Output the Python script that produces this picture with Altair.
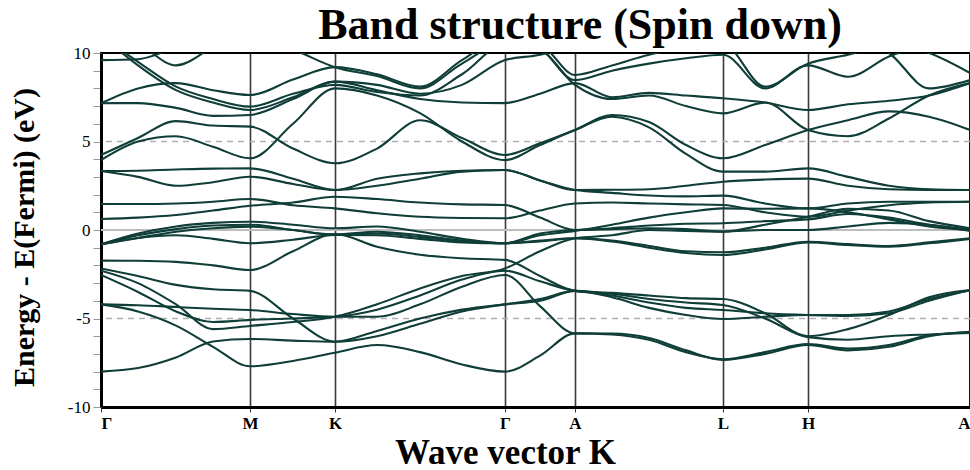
import altair as alt
import pandas as pd

# k-path sample positions (path-length units) and high-symmetry points
k_grid = [0, 37, 75, 112, 149, 192, 234, 276, 319, 361, 404, 439, 474,
          511, 548, 585, 622, 664, 707, 747, 788, 828, 869]
sym_pos = [0, 149, 234, 404, 474, 622, 707, 869]
sym_labels = ["Γ", "M", "K", "Γ", "A", "L", "H", "A"]
y_tick_values = list(range(-10, 11))
title_text = ["Band structure (Spin down)"]

# band energies (eV, relative to Fermi level) at each k_grid point
band_a = [-1.73, -1.74, -1.8, -2.0, -2.26, -1.2, -0.23, -0.95, -1.4, -1.6, -1.69, -2.6, -3.44,
          -3.55, -3.7, -3.85, -3.9, -4.7, -6.0, -5.6, -4.8, -3.8, -3.39]
band_b = [-2.17, -2.6, -3.1, -3.35, -3.44, -5.0, -6.31, -5.7, -5.0, -4.5, -4.2, -4.0, -3.44,
          -3.7, -4.1, -4.4, -4.52, -4.7, -4.8, -4.85, -4.7, -4.0, -3.39]
band_c = [-2.3, -3.0, -4.2, -5.6, -5.42, -5.2, -4.9, -4.2, -3.3, -2.6, -2.17, -1.2, -0.47,
          -0.3, 0.0, -0.05, -0.09, 0.3, 0.75, 1.2, 1.1, 0.5, 0.1]
band_d = [-2.54, -3.5, -4.6, -5.2, -5.08, -5.0, -4.9, -4.5, -3.7, -2.8, -2.3, -2.9, -3.44,
          -3.6, -3.9, -4.1, -4.24, -5.0, -6.05, -6.2, -6.0, -5.9, -5.82]
band_e = [-4.2, -4.25, -4.35, -4.45, -4.52, -4.75, -4.9, -4.9, -4.2, -3.2, -2.54, -4.3, -5.84,
          -5.85, -6.1, -6.8, -7.34, -7.0, -6.5, -6.8, -6.6, -6.0, -5.75]
band_f = [-4.2, -4.6, -5.4, -6.6, -7.7, -7.4, -6.93, -6.5, -6.9, -7.6, -8.0, -7.1, -5.84,
          -5.9, -6.2, -6.9, -7.3, -6.9, -6.45, -6.7, -6.5, -5.95, -5.78]
band_g = [-8.0, -7.8, -7.2, -6.3, -6.16, -6.25, -6.31, -6.0, -5.3, -4.6, -4.2, -3.9, -3.44,
          -3.8, -4.4, -4.8, -5.03, -4.9, -4.8, -4.8, -4.6, -3.9, -3.42]
band_z1 = [-0.81, -0.2, 0.2, 0.4, 0.47, 0.3, 0.1, 0.2, -0.1, -0.5, -0.75, -0.2, 0.0,
           0.05, 0.1, 0.05, -0.09, 0.0, 0.0, 0.2, 0.4, 0.3, -0.05]
band_z2 = [-0.81, -0.3, 0.05, 0.25, 0.3, 0.0, -0.25, -0.1, -0.3, -0.6, -0.75, -0.3, -0.05,
           0.3, 0.7, 1.0, 1.22, 1.2, 1.22, 1.0, 0.6, 0.2, 0.0]
band_z3 = [-0.81, -0.45, -0.1, 0.1, 0.19, 0.0, -0.28, -0.2, -0.4, -0.65, -0.75, -0.6, -0.47,
           -0.6, -0.9, -1.2, -1.26, -1.0, -0.66, -0.8, -0.9, -0.7, -0.47]
band_z4 = [-0.81, -0.45, -0.3, -0.5, -0.75, -0.55, -0.28, -0.3, -0.5, -0.7, -0.75, -0.65, -0.47,
           -0.65, -1.0, -1.3, -1.41, -1.1, -0.7, -0.85, -0.95, -0.75, -0.5]
band_z5 = [0.62, 0.7, 0.85, 1.1, 1.37, 1.55, 1.88, 1.75, 1.55, 1.45, 1.41, 0.7, 0.0,
           0.1, 0.25, 0.35, 0.38, 0.5, 0.6, 0.9, 0.7, 0.3, 0.05]
band_z6 = [1.47, 1.47, 1.5, 1.6, 1.75, 1.4, 1.22, 0.95, 0.75, 0.68, 0.66, 1.1, 1.5,
           1.55, 1.5, 1.45, 1.41, 1.0, 0.75, 1.1, 1.4, 1.55, 1.6]
band_u1 = [3.33, 3.0, 2.5, 2.7, 3.01, 2.6, 2.26, 2.9, 3.2, 3.35, 3.39, 2.8, 2.26,
           2.27, 2.3, 2.5, 2.73, 2.85, 2.9, 2.5, 2.3, 2.26, 2.26]
band_u2 = [3.33, 3.35, 3.42, 3.47, 3.48, 2.9, 2.26, 2.5, 2.9, 3.3, 3.39, 2.8, 2.26,
           2.1, 1.95, 1.9, 1.94, 1.5, 1.22, 1.5, 1.6, 1.6, 1.6]
band_u3 = [4.24, 5.2, 6.15, 5.9, 5.84, 4.6, 3.77, 4.6, 6.2, 5.2, 4.24, 4.9, 5.65,
           6.5, 6.1, 4.8, 4.05, 4.8, 5.65, 6.2, 6.7, 6.4, 5.65]
band_u4 = [3.95, 5.0, 5.3, 4.7, 4.05, 6.0, 8.0, 7.6, 6.6, 5.0, 3.95, 4.8, 5.65,
           6.4, 5.8, 4.3, 3.3, 3.3, 3.48, 3.0, 2.5, 2.3, 2.26]
band_u5 = [7.16, 7.17, 6.9, 6.45, 6.5, 7.4, 8.38, 7.9, 7.4, 7.2, 7.17, 7.7, 8.3,
           7.5, 7.75, 7.6, 7.44, 7.2, 6.78, 7.1, 7.3, 7.6, 8.3]
band_u6 = [11.0, 9.5, 8.1, 7.4, 6.97, 7.7, 8.2, 7.8, 7.6, 8.8, 10.5, 10.4, 8.76,
           9.3, 9.9, 10.3, 10.5, 8.1, 9.4, 9.9, 10.5, 10.0, 8.87]
band_u7 = [7.16, 8.0, 8.3, 7.9, 7.63, 8.5, 9.2, 8.8, 8.1, 9.6, 10.9, 10.3, 8.47,
           9.0, 9.4, 9.7, 9.9, 8.0, 9.3, 8.66, 9.8, 10.5, 10.8]
band_u8 = [9.6, 9.65, 10.3, 10.8, 11.0, 10.2, 9.2, 8.7, 8.0, 9.4, 10.6, 10.2, 8.2,
           7.4, 7.6, 7.0, 6.59, 7.2, 5.65, 5.3, 6.3, 7.6, 8.3]
band_u9 = [11.0, 9.3, 7.9, 7.2, 6.78, 7.5, 8.38, 8.2, 7.7, 8.2, 9.6, 9.9, 10.5,
           11.0, 11.0, 11.0, 11.0, 11.0, 11.0, 11.0, 10.0, 8.0, 8.47]
band_u10 = [11.0, 10.5, 9.3, 10.3, 11.0, 11.0, 11.0, 11.0, 11.0, 11.0, 11.0, 11.0, 11.0,
            11.0, 11.0, 11.0, 11.0, 11.0, 11.0, 11.0, 11.0, 11.0, 11.0]

bands = {
    "a": band_a, "b": band_b, "c": band_c, "d": band_d, "e": band_e, "f": band_f,
    "g": band_g, "z1": band_z1, "z2": band_z2, "z3": band_z3, "z4": band_z4,
    "z5": band_z5, "z6": band_z6, "u1": band_u1, "u2": band_u2, "u3": band_u3,
    "u4": band_u4, "u5": band_u5, "u6": band_u6, "u7": band_u7, "u8": band_u8,
    "u9": band_u9, "u10": band_u10,
}

rows = []
for name, vals in bands.items():
    for k, e in zip(k_grid, vals):
        rows.append({"band": name, "k": k, "E": e})
df = pd.DataFrame(rows)

dash_levels = [5, -5]
fermi_level = [0]

x_label_expr = " : ".join(
    f"datum.value == {p} ? '{lab}'" for p, lab in zip(sym_pos, sym_labels)
) + " : ''"

SERIF = "Liberation Serif"

x_scale = alt.Scale(domain=[0, 869], nice=False, zero=False)
y_scale = alt.Scale(domain=[-10, 10], nice=False, zero=False)

x_axis = alt.Axis(
    values=sym_pos, labelExpr=x_label_expr, labelFlush=True, labelOverlap=False,
    grid=True, gridColor="#3a3a3a", gridWidth=1.6, gridOpacity=1,
    ticks=True, tickSize=5, tickColor="#3a3a3a",
    domainColor="black", domainWidth=3,
    labelFont=SERIF, labelFontWeight="bold", labelFontSize=17, labelColor="black",
    labelPadding=3, labelBaseline="top",
    title="Wave vector K", titleFont=SERIF, titleFontWeight="bold", titleFontSize=35,
    titleColor="black", titleX=404, titleY=56, titleAlign="center",
    titleBaseline="alphabetic",
)
y_axis = alt.Axis(
    values=y_tick_values,
    labelExpr="datum.value % 5 == 0 ? '' + datum.value : ''", labelOverlap=False,
    grid=False, ticks=True, tickSize=8, tickColor="#999999",
    domainColor="black", domainWidth=3,
    labelFont=SERIF, labelFontSize=17, labelColor="black", labelPadding=3,
    title="Energy - E(Fermi) (eV)", titleFont=SERIF, titleFontWeight="bold",
    titleFontSize=30, titleColor="black", titleAngle=270, titleX=-77, titleY=184,
    titleAlign="center", titleBaseline="middle",
)

dash_df = pd.DataFrame({"E": dash_levels})
zero_df = pd.DataFrame({"E": fermi_level})
title_df = pd.DataFrame({"t": title_text})

lines = alt.Chart(df).mark_line(
    interpolate="monotone", strokeWidth=2.1, color="#0f3d38", clip=True
).encode(
    x=alt.X("k:Q", scale=x_scale, axis=x_axis),
    y=alt.Y("E:Q", scale=y_scale, axis=y_axis),
    detail="band:N",
)
dashed = alt.Chart(dash_df).mark_rule(color="#b0b0b0", strokeDash=[6, 5], strokeWidth=1.3).encode(
    y=alt.Y("E:Q", scale=y_scale, axis=y_axis)
)
zero = alt.Chart(zero_df).mark_rule(color="#bdbdbd", strokeWidth=2).encode(
    y=alt.Y("E:Q", scale=y_scale, axis=y_axis)
)
title_mark = alt.Chart(title_df).mark_text(
    font=SERIF, fontSize=44, fontWeight="bold", color="black",
    align="center", baseline="alphabetic",
).encode(text="t:N", x=alt.value(479), y=alt.value(-14))

chart = alt.layer(dashed, zero, lines, title_mark).properties(
    width=869, height=354,
    padding={"left": 101, "top": 53, "right": 0, "bottom": 63},
    autosize=alt.AutoSizeParams(type="none"),
).configure_view(stroke="black", strokeWidth=2).configure_axis(labelOverlap=False)

chart.save("out.html", embed_options={"renderer": "svg", "actions": False})
